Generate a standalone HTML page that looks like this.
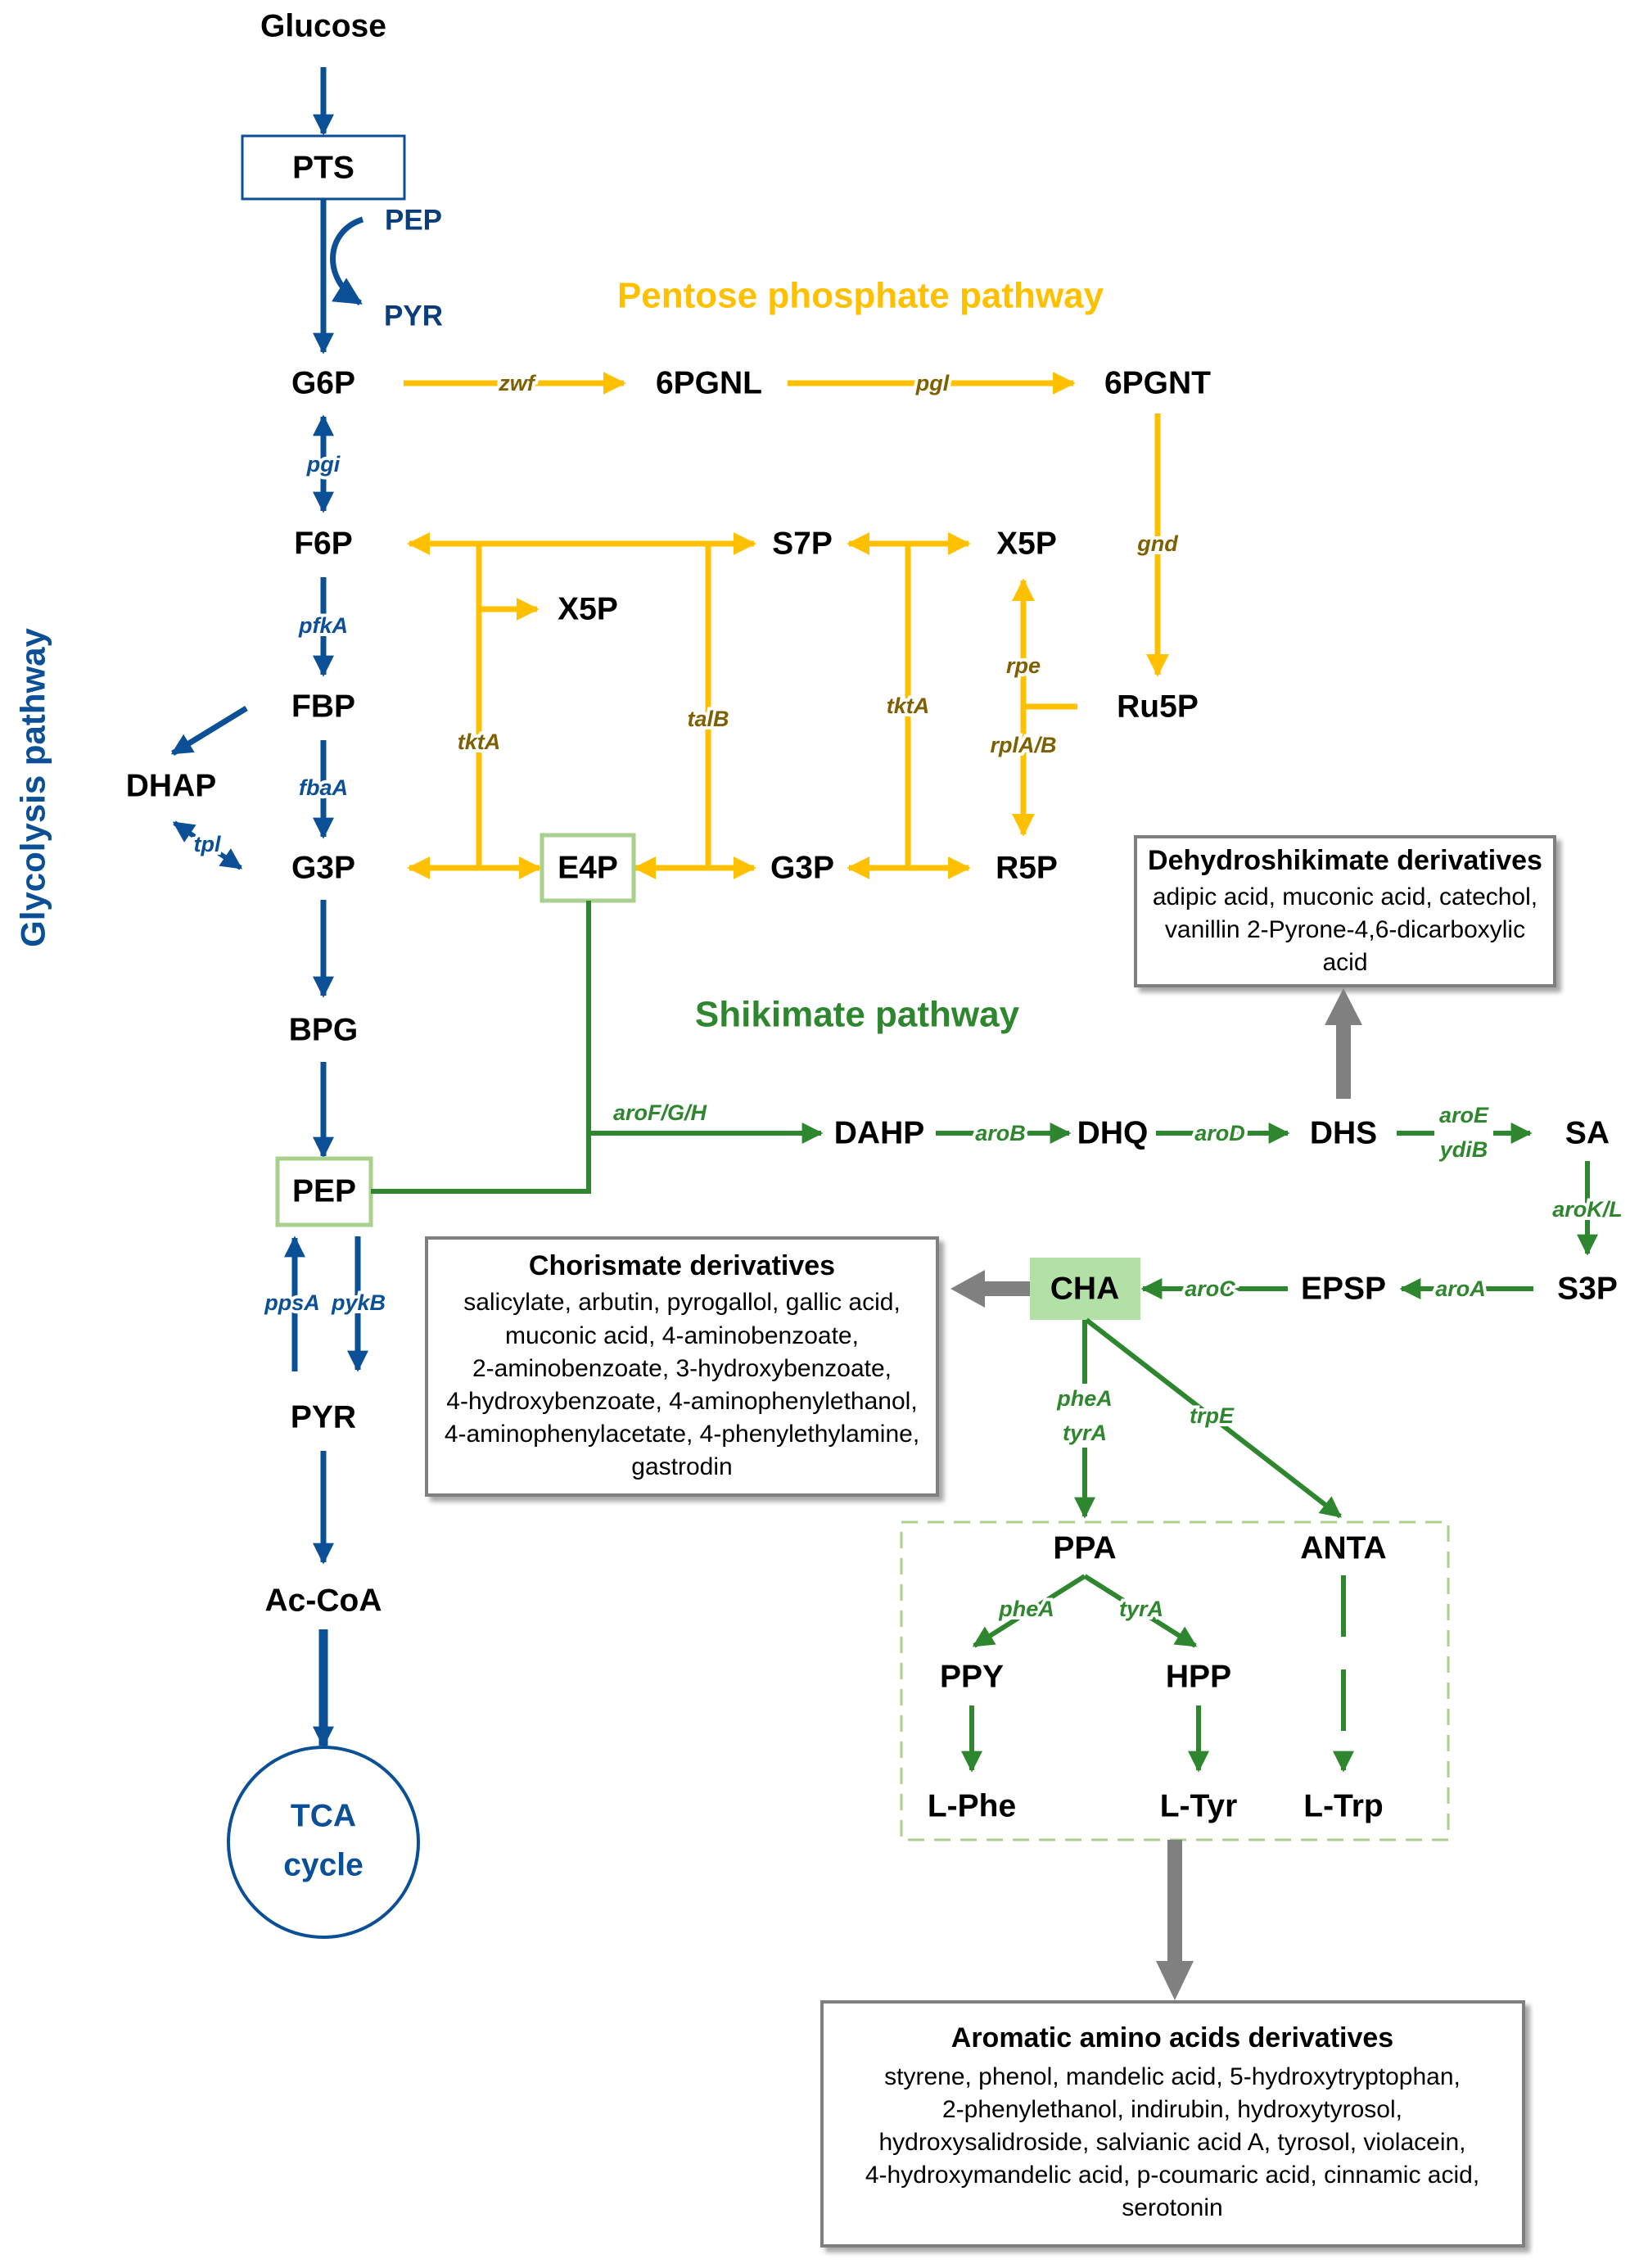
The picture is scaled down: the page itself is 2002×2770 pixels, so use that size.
<!DOCTYPE html>
<html><head><meta charset="utf-8"><style>
html,body{margin:0;padding:0;background:#fff}
svg{display:block}
text{font-family:"Liberation Sans",sans-serif}
.n{font-weight:bold;font-size:39px;fill:#000;text-anchor:middle;dominant-baseline:central}
.gb{font-weight:bold;font-style:italic;font-size:27px;fill:#0b4f96;text-anchor:middle;dominant-baseline:central;stroke:#fff;stroke-width:8px;paint-order:stroke}
.gy{font-weight:bold;font-style:italic;font-size:27px;fill:#7f6000;text-anchor:middle;dominant-baseline:central;stroke:#fff;stroke-width:8px;paint-order:stroke}
.gg{font-weight:bold;font-style:italic;font-size:27px;fill:#2e862e;text-anchor:middle;dominant-baseline:central;stroke:#fff;stroke-width:8px;paint-order:stroke}
.bt{font-weight:bold;font-size:34px;fill:#000;text-anchor:middle}
.bx{font-size:30px;fill:#000;text-anchor:middle}
</style></head><body>
<svg width="2002" height="2770" viewBox="0 0 2002 2770" xmlns="http://www.w3.org/2000/svg">
<defs>
<marker id="ab" viewBox="0 0 10 10" refX="9" refY="5" markerWidth="26" markerHeight="30" markerUnits="userSpaceOnUse" orient="auto-start-reverse"><path d="M0,0L10,5L0,10z" fill="#0b4f96"/></marker>
<marker id="abl" viewBox="0 0 10 10" refX="9" refY="5" markerWidth="34" markerHeight="34" markerUnits="userSpaceOnUse" orient="auto"><path d="M0,0L10,5L0,10z" fill="#0b4f96"/></marker>
<marker id="ay" viewBox="0 0 10 10" refX="9" refY="5" markerWidth="28" markerHeight="32" markerUnits="userSpaceOnUse" orient="auto-start-reverse"><path d="M0,0L10,5L0,10z" fill="#ffc000"/></marker>
<marker id="ag" viewBox="0 0 10 10" refX="9" refY="5" markerWidth="26" markerHeight="28" markerUnits="userSpaceOnUse" orient="auto-start-reverse"><path d="M0,0L10,5L0,10z" fill="#2e862e"/></marker>
<filter id="sh" x="-5%" y="-5%" width="115%" height="120%"><feDropShadow dx="6" dy="6" stdDeviation="3" flood-color="#000" flood-opacity="0.35"/></filter>
</defs>

<!-- Glycolysis -->
<text class="n" x="395" y="32">Glucose</text>
<line x1="395" y1="82" x2="395" y2="163" stroke="#0b4f96" stroke-width="7" marker-end="url(#ab)"/>
<rect x="296" y="166" width="198" height="77" fill="#fff" stroke="#0b4f96" stroke-width="3"/>
<text class="n" x="395" y="205">PTS</text>
<line x1="395" y1="243" x2="395" y2="430" stroke="#0b4f96" stroke-width="7" marker-end="url(#ab)"/>
<path d="M443,268 C398,282 392,340 440,370" fill="none" stroke="#0b4f96" stroke-width="7" marker-end="url(#abl)"/>
<text class="n" x="505" y="269" style="fill:#0b3d7a;font-size:35px">PEP</text>
<text class="n" x="505" y="386" style="fill:#0b3d7a;font-size:35px">PYR</text>

<text class="n" x="395" y="468">G6P</text>
<line x1="395" y1="509" x2="395" y2="624" stroke="#0b4f96" stroke-width="7" marker-start="url(#ab)" marker-end="url(#ab)"/>
<text class="gb" x="395" y="567">pgi</text>
<text class="n" x="395" y="664">F6P</text>
<line x1="395" y1="705" x2="395" y2="824" stroke="#0b4f96" stroke-width="7" marker-end="url(#ab)"/>
<text class="gb" x="395" y="764">pfkA</text>
<text class="n" x="395" y="863">FBP</text>
<line x1="395" y1="904" x2="395" y2="1022" stroke="#0b4f96" stroke-width="7" marker-end="url(#ab)"/>
<text class="gb" x="395" y="962">fbaA</text>
<line x1="301" y1="865" x2="211" y2="920" stroke="#0b4f96" stroke-width="7" marker-end="url(#ab)"/>
<text class="n" x="209" y="960">DHAP</text>
<line x1="213" y1="1005" x2="294" y2="1060" stroke="#0b4f96" stroke-width="6" marker-start="url(#ab)" marker-end="url(#ab)"/>
<text class="gb" x="253" y="1031">tpl</text>
<text class="n" x="395" y="1060">G3P</text>
<line x1="395" y1="1099" x2="395" y2="1216" stroke="#0b4f96" stroke-width="7" marker-end="url(#ab)"/>
<text class="n" x="395" y="1258">BPG</text>
<line x1="395" y1="1297" x2="395" y2="1412" stroke="#0b4f96" stroke-width="7" marker-end="url(#ab)"/>
<rect x="339" y="1415" width="114" height="81" fill="#fff" stroke="#a9d18e" stroke-width="5"/>
<text class="n" x="396" y="1455">PEP</text>
<line x1="360" y1="1675" x2="360" y2="1512" stroke="#0b4f96" stroke-width="7" marker-end="url(#ab)"/>
<line x1="437" y1="1510" x2="437" y2="1673" stroke="#0b4f96" stroke-width="7" marker-end="url(#ab)"/>
<text class="gb" x="357" y="1591">ppsA</text>
<text class="gb" x="438" y="1591">pykB</text>
<text class="n" x="395" y="1731">PYR</text>
<line x1="395" y1="1772" x2="395" y2="1908" stroke="#0b4f96" stroke-width="7" marker-end="url(#ab)"/>
<text class="n" x="395" y="1955">Ac-CoA</text>
<line x1="395" y1="1990" x2="395" y2="2132" stroke="#0b4f96" stroke-width="11" marker-end="url(#ab)"/>
<circle cx="395" cy="2250" r="116" fill="#fff" stroke="#0b4f96" stroke-width="4"/>
<text class="n" x="395" y="2218" style="fill:#0b4f96">TCA</text>
<text class="n" x="395" y="2278" style="fill:#0b4f96">cycle</text>
<text transform="translate(40,962) rotate(-90)" text-anchor="middle" dominant-baseline="central" style="font-size:42px;font-weight:bold;fill:#0b4f96">Glycolysis pathway</text>

<!-- Pentose phosphate -->
<text x="1051" y="361" text-anchor="middle" dominant-baseline="central" style="font-size:44px;font-weight:bold;fill:#ffc000">Pentose phosphate pathway</text>
<line x1="493" y1="468" x2="762" y2="468" stroke="#ffc000" stroke-width="7" marker-end="url(#ay)"/>
<text class="gy" x="631" y="468">zwf</text>
<text class="n" x="866" y="468">6PGNL</text>
<line x1="962" y1="468" x2="1311" y2="468" stroke="#ffc000" stroke-width="7" marker-end="url(#ay)"/>
<text class="gy" x="1139" y="468">pgl</text>
<text class="n" x="1414" y="468">6PGNT</text>
<line x1="1414" y1="505" x2="1414" y2="824" stroke="#ffc000" stroke-width="7" marker-end="url(#ay)"/>
<text class="gy" x="1414" y="664">gnd</text>
<text class="n" x="1414" y="863">Ru5P</text>

<line x1="500" y1="664" x2="921" y2="664" stroke="#ffc000" stroke-width="7" marker-start="url(#ay)" marker-end="url(#ay)"/>
<line x1="585" y1="664" x2="585" y2="1060" stroke="#ffc000" stroke-width="7"/>
<line x1="585" y1="744" x2="656" y2="744" stroke="#ffc000" stroke-width="7" marker-end="url(#ay)"/>
<text class="gy" x="585" y="906">tktA</text>
<line x1="865" y1="664" x2="865" y2="1060" stroke="#ffc000" stroke-width="7"/>
<text class="gy" x="865" y="878">talB</text>
<line x1="500" y1="1060" x2="659" y2="1060" stroke="#ffc000" stroke-width="7" marker-start="url(#ay)" marker-end="url(#ay)"/>
<line x1="776" y1="1060" x2="921" y2="1060" stroke="#ffc000" stroke-width="7" marker-start="url(#ay)" marker-end="url(#ay)"/>
<text class="n" x="980" y="664">S7P</text>
<text class="n" x="718" y="744">X5P</text>
<rect x="662" y="1020" width="112" height="80" fill="#fff" stroke="#a9d18e" stroke-width="5"/>
<text class="n" x="718" y="1060">E4P</text>
<text class="n" x="980" y="1060">G3P</text>

<line x1="1037" y1="664" x2="1183" y2="664" stroke="#ffc000" stroke-width="7" marker-start="url(#ay)" marker-end="url(#ay)"/>
<line x1="1037" y1="1060" x2="1183" y2="1060" stroke="#ffc000" stroke-width="7" marker-start="url(#ay)" marker-end="url(#ay)"/>
<line x1="1109" y1="664" x2="1109" y2="1060" stroke="#ffc000" stroke-width="7"/>
<text class="gy" x="1109" y="862">tktA</text>
<text class="n" x="1254" y="664">X5P</text>
<text class="n" x="1254" y="1060">R5P</text>
<line x1="1250" y1="863" x2="1250" y2="709" stroke="#ffc000" stroke-width="7" marker-end="url(#ay)"/>
<line x1="1250" y1="863" x2="1250" y2="1019" stroke="#ffc000" stroke-width="7" marker-end="url(#ay)"/>
<line x1="1250" y1="863" x2="1316" y2="863" stroke="#ffc000" stroke-width="7"/>
<text class="gy" x="1250" y="813">rpe</text>
<text class="gy" x="1250" y="910">rplA/B</text>

<!-- Dehydroshikimate box -->
<rect x="1387" y="1022" width="512" height="182" fill="#fff" stroke="#7f7f7f" stroke-width="4" filter="url(#sh)"/>
<text class="bt" x="1643" y="1062">Dehydroshikimate derivatives</text>
<text class="bx" x="1643" y="1105">adipic acid, muconic acid, catechol,</text>
<text class="bx" x="1643" y="1145">vanillin 2-Pyrone-4,6-dicarboxylic</text>
<text class="bx" x="1643" y="1185">acid</text>
<rect x="1632" y="1250" width="18" height="92" fill="#808080"/>
<polygon points="1641,1207 1618,1252 1664,1252" fill="#808080"/>

<!-- Shikimate -->
<text x="1047" y="1239" text-anchor="middle" dominant-baseline="central" style="font-size:44px;font-weight:bold;fill:#2e862e">Shikimate pathway</text>
<polyline points="453,1455 719,1455 719,1100" fill="none" stroke="#2e862e" stroke-width="6"/>
<line x1="719" y1="1384" x2="1003" y2="1384" stroke="#2e862e" stroke-width="6" marker-end="url(#ag)"/>
<text class="gg" x="806" y="1359" style="stroke:none">aroF/G/H</text>
<text class="n" x="1074" y="1384">DAHP</text>
<line x1="1143" y1="1384" x2="1306" y2="1384" stroke="#2e862e" stroke-width="6" marker-end="url(#ag)"/>
<text class="gg" x="1222" y="1384">aroB</text>
<text class="n" x="1359" y="1384">DHQ</text>
<line x1="1412" y1="1384" x2="1573" y2="1384" stroke="#2e862e" stroke-width="6" marker-end="url(#ag)"/>
<text class="gg" x="1490" y="1384">aroD</text>
<text class="n" x="1641" y="1384">DHS</text>
<line x1="1706" y1="1384" x2="1869" y2="1384" stroke="#2e862e" stroke-width="6" marker-end="url(#ag)"/>
<rect x="1752" y="1350" width="72" height="68" fill="#fff"/>
<text class="gg" x="1788" y="1362" style="stroke:none">aroE</text>
<text class="gg" x="1788" y="1404" style="stroke:none">ydiB</text>
<text class="n" x="1939" y="1384">SA</text>
<line x1="1939" y1="1418" x2="1939" y2="1531" stroke="#2e862e" stroke-width="6" marker-end="url(#ag)"/>
<text class="gg" x="1939" y="1477">aroK/L</text>
<text class="n" x="1939" y="1574">S3P</text>
<line x1="1873" y1="1574" x2="1712" y2="1574" stroke="#2e862e" stroke-width="6" marker-end="url(#ag)"/>
<text class="gg" x="1784" y="1574">aroA</text>
<text class="n" x="1641" y="1574">EPSP</text>
<line x1="1573" y1="1574" x2="1396" y2="1574" stroke="#2e862e" stroke-width="6" marker-end="url(#ag)"/>
<text class="gg" x="1478" y="1574">aroC</text>
<rect x="1258" y="1536" width="135" height="76" fill="#b3e0a6"/>
<text class="n" x="1325" y="1574">CHA</text>
<rect x="1200" y="1565" width="58" height="18" fill="#808080"/>
<polygon points="1161,1574 1203,1551 1203,1597" fill="#808080"/>

<!-- Chorismate box -->
<rect x="521" y="1512" width="624" height="314" fill="#fff" stroke="#7f7f7f" stroke-width="4" filter="url(#sh)"/>
<text class="bt" x="833" y="1557">Chorismate derivatives</text>
<text class="bx" x="833" y="1600">salicylate, arbutin, pyrogallol, gallic acid,</text>
<text class="bx" x="833" y="1641">muconic acid, 4-aminobenzoate,</text>
<text class="bx" x="833" y="1681">2-aminobenzoate, 3-hydroxybenzoate,</text>
<text class="bx" x="833" y="1721">4-hydroxybenzoate, 4-aminophenylethanol,</text>
<text class="bx" x="833" y="1761">4-aminophenylacetate, 4-phenylethylamine,</text>
<text class="bx" x="833" y="1801">gastrodin</text>

<line x1="1325" y1="1612" x2="1325" y2="1852" stroke="#2e862e" stroke-width="6" marker-end="url(#ag)"/>
<rect x="1290" y="1690" width="70" height="78" fill="#fff"/>
<text class="gg" x="1325" y="1708" style="stroke:none">pheA</text>
<text class="gg" x="1325" y="1750" style="stroke:none">tyrA</text>
<line x1="1327" y1="1612" x2="1637" y2="1852" stroke="#2e862e" stroke-width="6" marker-end="url(#ag)"/>
<text class="gg" x="1480" y="1729">trpE</text>

<rect x="1101" y="1859" width="668" height="388" fill="none" stroke="#a9d18e" stroke-width="3" stroke-dasharray="20,12"/>
<text class="n" x="1325" y="1891">PPA</text>
<text class="n" x="1641" y="1891">ANTA</text>
<line x1="1325" y1="1925" x2="1190" y2="2010" stroke="#2e862e" stroke-width="6" marker-end="url(#ag)"/>
<line x1="1325" y1="1925" x2="1460" y2="2010" stroke="#2e862e" stroke-width="6" marker-end="url(#ag)"/>
<text class="gg" x="1254" y="1965">pheA</text>
<text class="gg" x="1394" y="1965">tyrA</text>
<text class="n" x="1187" y="2048">PPY</text>
<text class="n" x="1464" y="2048">HPP</text>
<line x1="1187" y1="2083" x2="1187" y2="2162" stroke="#2e862e" stroke-width="6" marker-end="url(#ag)"/>
<line x1="1464" y1="2083" x2="1464" y2="2162" stroke="#2e862e" stroke-width="6" marker-end="url(#ag)"/>
<line x1="1641" y1="1924" x2="1641" y2="2162" stroke="#2e862e" stroke-width="6" stroke-dasharray="75,40" marker-end="url(#ag)"/>
<text class="n" x="1187" y="2206">L-Phe</text>
<text class="n" x="1464" y="2206">L-Tyr</text>
<text class="n" x="1641" y="2206">L-Trp</text>

<rect x="1426" y="2247" width="18" height="150" fill="#808080"/>
<polygon points="1435,2443 1412,2395 1458,2395" fill="#808080"/>

<!-- Aromatic box -->
<rect x="1004" y="2445" width="857" height="298" fill="#fff" stroke="#7f7f7f" stroke-width="4" filter="url(#sh)"/>
<text class="bt" x="1432" y="2500">Aromatic amino acids derivatives</text>
<text class="bx" x="1432" y="2546">styrene, phenol, mandelic acid, 5-hydroxytryptophan,</text>
<text class="bx" x="1432" y="2586">2-phenylethanol, indirubin, hydroxytyrosol,</text>
<text class="bx" x="1432" y="2626">hydroxysalidroside, salvianic acid A, tyrosol, violacein,</text>
<text class="bx" x="1432" y="2666">4-hydroxymandelic acid, p-coumaric acid, cinnamic acid,</text>
<text class="bx" x="1432" y="2706">serotonin</text>
</svg>
</body></html>
